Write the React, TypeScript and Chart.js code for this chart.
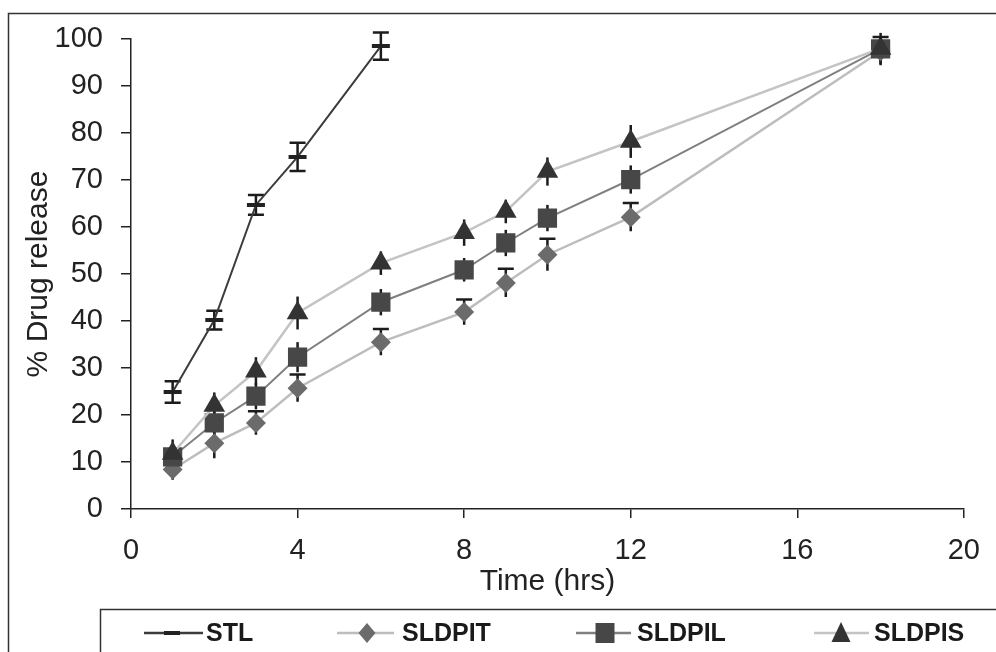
import React, { useEffect, useRef } from "react";
import { Chart, registerables } from "chart.js";

Chart.register(...registerables);

const stlTime = [1, 2, 3, 4, 6];
const stl = [24.9, 40.2, 64.7, 74.9, 98.5];
const stlErr = [2.3, 2.0, 2.1, 3.0, 2.9];

const time = [1, 2, 3, 4, 6, 8, 9, 10, 12, 18];
const sldpit = [8.4, 14.0, 18.3, 25.7, 35.5, 41.9, 48.1, 54.1, 62.1, 97.4];
const sldpitErr = [2.2, 3.2, 2.5, 2.9, 2.8, 2.7, 3.0, 3.4, 3.0, 3.0];
const sldpil = [11.1, 18.3, 24.0, 32.3, 44.0, 50.9, 56.6, 61.9, 70.1, 97.9];
const sldpilErr = [2.5, 2.5, 2.8, 3.2, 2.8, 2.5, 2.8, 2.8, 3.0, 2.5];
const sldpis = [11.8, 22.0, 29.3, 41.7, 52.3, 58.8, 63.3, 71.8, 78.2, 98.0];
const sldpisErr = [3.0, 2.8, 3.0, 3.5, 2.5, 2.8, 2.5, 3.0, 3.5, 3.3];

const seriesNames = ["STL", "SLDPIT", "SLDPIL", "SLDPIS"];
const xTitle = "Time (hrs)";
const yTitle = "% Drug release";

const FONT = "'Liberation Sans', Arial, sans-serif";
const AXIS = "#222222";

const toPts = (xs: number[], ys: number[]) => xs.map((x, i) => ({ x, y: ys[i] }));

const errorBars = {
  id: "errorBars",
  beforeDatasetsDraw(chart: any) {
    const ctx = chart.ctx;
    const ys = chart.scales.y;
    chart.data.datasets.forEach((ds: any, di: number) => {
      const meta = chart.getDatasetMeta(di);
      const errs: number[] = ds.errs;
      ctx.save();
      ctx.strokeStyle = "#1c1c1c";
      ctx.lineWidth = 2.5;
      meta.data.forEach((pt: any, i: number) => {
        const v = ds.data[i].y;
        const top = ys.getPixelForValue(v + errs[i]);
        const bot = ys.getPixelForValue(v - errs[i]);
        const x = pt.x;
        ctx.beginPath();
        ctx.moveTo(x, top);
        ctx.lineTo(x, bot);
        if (ds.capTop) {
          ctx.moveTo(x - 8, top);
          ctx.lineTo(x + 8, top);
        }
        if (ds.capBottom) {
          ctx.moveTo(x - 8, bot);
          ctx.lineTo(x + 8, bot);
        }
        ctx.stroke();
      });
      ctx.restore();
    });
  },
};

const frameAndLegend = {
  id: "frameAndLegend",
  afterDraw(chart: any) {
    const ctx = chart.ctx;
    ctx.save();
    ctx.strokeStyle = "#333333";
    ctx.lineWidth = 1.5;
    ctx.strokeRect(8.5, 13.5, 1200, 1200);
    ctx.fillStyle = "#ffffff";
    ctx.fillRect(100.5, 609.5, 1000, 100);
    ctx.strokeRect(100.5, 609.5, 1000, 100);

    const ly = 633;
    const items = [
      { x0: 144, x1: 203, mx: 172, tx: 206, line: "#3c3c3c", kind: "dash", fill: "#222222" },
      { x0: 337, x1: 394, mx: 367, tx: 402, line: "#bdbdbd", kind: "diamond", fill: "#6b6b6b" },
      { x0: 576, x1: 631, mx: 605, tx: 637, line: "#808080", kind: "square", fill: "#474747" },
      { x0: 814, x1: 869, mx: 841, tx: 874, line: "#c4c4c4", kind: "triangle", fill: "#333333" },
    ];
    items.forEach((it, i) => {
      ctx.strokeStyle = it.line;
      ctx.lineWidth = 2.5;
      ctx.beginPath();
      ctx.moveTo(it.x0, ly);
      ctx.lineTo(it.x1, ly);
      ctx.stroke();
      ctx.fillStyle = it.fill;
      ctx.beginPath();
      if (it.kind === "dash") {
        ctx.rect(it.mx - 8, ly - 2, 16, 4);
      } else if (it.kind === "diamond") {
        ctx.moveTo(it.mx, ly - 10);
        ctx.lineTo(it.mx + 8.5, ly);
        ctx.lineTo(it.mx, ly + 10);
        ctx.lineTo(it.mx - 8.5, ly);
        ctx.closePath();
      } else if (it.kind === "square") {
        ctx.rect(it.mx - 9.5, ly - 10, 19, 20);
      } else {
        ctx.moveTo(it.mx, ly - 11);
        ctx.lineTo(it.mx + 9.5, ly + 9);
        ctx.lineTo(it.mx - 9.5, ly + 9);
        ctx.closePath();
      }
      ctx.fill();
      ctx.fillStyle = "#1a1a1a";
      ctx.font = `bold 25px ${FONT}`;
      ctx.textAlign = "left";
      ctx.textBaseline = "middle";
      ctx.fillText(seriesNames[i], it.tx, ly + 1);
    });
    ctx.restore();
  },
};

export default function App() {
  const ref = useRef<HTMLCanvasElement>(null);
  useEffect(() => {
    if (!ref.current) return;
    const chart = new Chart(ref.current, {
      type: "line",
      data: {
        datasets: [
          {
            label: seriesNames[0],
            data: toPts(stlTime, stl),
            errs: stlErr,
            capTop: true,
            capBottom: true,
            borderColor: "#3c3c3c",
            borderWidth: 2,
            pointStyle: "line",
            pointRadius: 9,
            pointBorderWidth: 4,
            pointBorderColor: "#222222",
            pointBackgroundColor: "#222222",
            order: 3,
          } as any,
          {
            label: seriesNames[1],
            data: toPts(time, sldpit),
            errs: sldpitErr,
            capTop: true,
            capBottom: false,
            borderColor: "#bdbdbd",
            borderWidth: 2.5,
            pointStyle: "rectRot",
            pointRadius: 10,
            pointBorderWidth: 0,
            pointBackgroundColor: "#6b6b6b",
            order: 2,
          } as any,
          {
            label: seriesNames[2],
            data: toPts(time, sldpil),
            errs: sldpilErr,
            capTop: false,
            capBottom: false,
            borderColor: "#808080",
            borderWidth: 2,
            pointStyle: "rect",
            pointRadius: 13.6,
            pointBorderWidth: 0,
            pointBackgroundColor: "#474747",
            order: 1,
          } as any,
          {
            label: seriesNames[3],
            data: toPts(time, sldpis),
            errs: sldpisErr,
            capTop: false,
            capBottom: false,
            borderColor: "#c4c4c4",
            borderWidth: 2.5,
            pointStyle: "triangle",
            pointRadius: 12.5,
            pointBorderWidth: 0,
            pointBackgroundColor: "#333333",
            order: 0,
          } as any,
        ],
      },
      options: {
        responsive: false,
        animation: false,
        devicePixelRatio: 1,
        layout: { padding: { top: 39, right: 30, left: 0, bottom: 0 } },
        plugins: { legend: { display: false }, tooltip: { enabled: false } },
        elements: { line: { tension: 0 } },
        scales: {
          x: {
            type: "linear",
            min: 0,
            max: 20,
            afterFit: (s: any) => {
              s.height = 143;
            },
            ticks: {
              stepSize: 4,
              color: AXIS,
              font: { family: FONT, size: 29 },
              padding: 16,
              maxRotation: 0,
            },
            grid: { drawOnChartArea: false, drawTicks: true, tickLength: 9, color: AXIS, lineWidth: 1.5 },
            border: { display: true, color: AXIS, width: 1.5 },
            title: {
              display: true,
              text: xTitle,
              color: AXIS,
              font: { family: FONT, size: 30 },
              padding: { top: 0, bottom: 52 },
            },
          },
          y: {
            type: "linear",
            min: 0,
            max: 100,
            afterFit: (s: any) => {
              s.width = 131;
            },
            ticks: {
              stepSize: 10,
              color: AXIS,
              font: { family: FONT, size: 29 },
              padding: 18,
            },
            grid: { drawOnChartArea: false, drawTicks: true, tickLength: 10, color: AXIS, lineWidth: 1.5 },
            border: { display: true, color: AXIS, width: 1.5 },
            title: {
              display: true,
              text: yTitle,
              color: AXIS,
              font: { family: FONT, size: 30 },
              padding: { top: 21, bottom: 0 },
            },
          },
        },
      } as any,
      plugins: [errorBars, frameAndLegend],
    });
    return () => chart.destroy();
  }, []);
  return (
    <div style={{ position: "absolute", left: 0, top: 0, width: 996, height: 652, background: "#fff" }}>
      <canvas ref={ref} width={996} height={652} style={{ display: "block", width: 996, height: 652 }} />
    </div>
  );
}
